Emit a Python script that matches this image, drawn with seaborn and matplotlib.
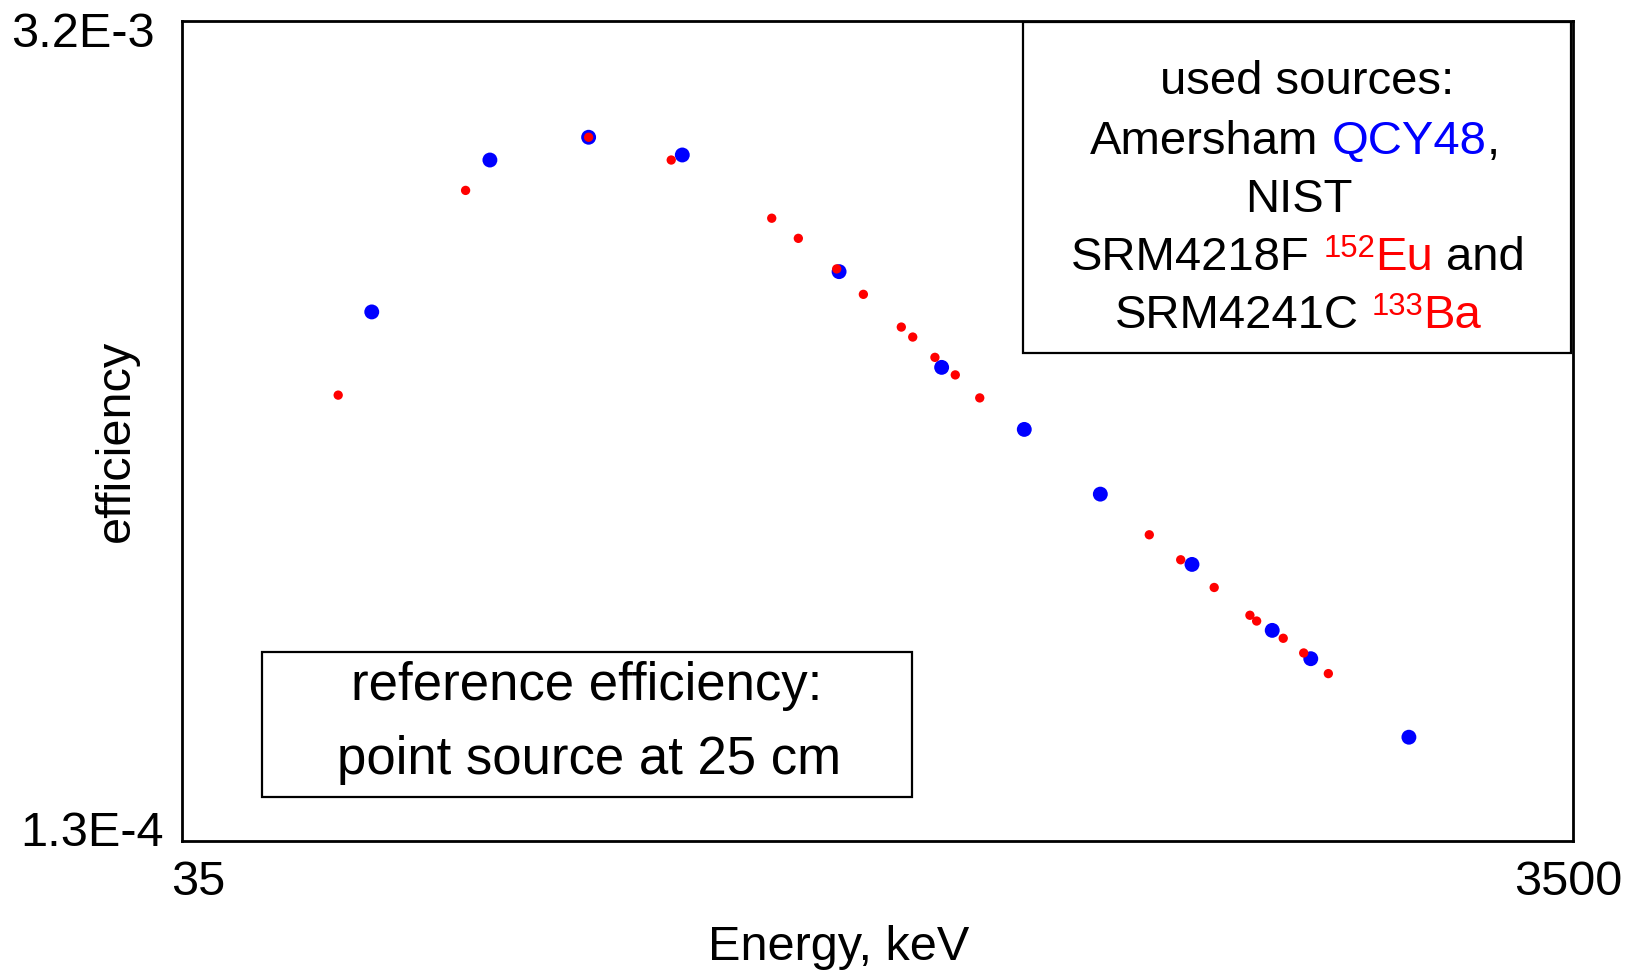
import numpy as np
import pandas as pd
import seaborn as sns
import matplotlib
matplotlib.use("Agg")
import matplotlib.pyplot as plt
from matplotlib.transforms import IdentityTransform, ScaledTranslation
from matplotlib.ticker import NullLocator
import matplotlib.patches as mpatches

# ---- data ----
qcy_energy = [65.6, 97.0, 134.5, 183.4, 308.2, 432.8, 569.0, 731.9, 991.4, 1293, 1469, 2033]
qcy_eff = [1.027e-3, 1.859e-3, 2.032e-3, 1.896e-3, 1.202e-3, 8.27e-4, 6.49e-4,
           5.04e-4, 3.83e-4, 2.96e-4, 2.65e-4, 1.95e-4]
nist_energy = [58.7, 89.5, 134.5, 176.8, 246.6, 269.3, 305.8, 334.0, 378.7, 393.3, 423.3,
               452.8, 491.0, 860.7, 955.0, 1067, 1201, 1228, 1341, 1435, 1557]
nist_eff = [7.42e-4, 1.651e-3, 2.032e-3, 1.859e-3, 1.481e-3, 1.369e-3, 1.215e-3, 1.100e-3,
            9.68e-4, 9.31e-4, 8.60e-4, 8.03e-4, 7.34e-4, 4.30e-4, 3.90e-4, 3.50e-4,
            3.14e-4, 3.07e-4, 2.87e-4, 2.71e-4, 2.50e-4]
x_ticks = [35, 3500]
x_ticklabels = ["35", "3500"]
y_ticks = [1.3e-4, 3.2e-3]
y_ticklabels = ["1.3E-4", "3.2E-3"]

BLUE = "#0000FF"
RED = "#FF0000"

sns.set_theme(style="white")
plt.rcParams["font.family"] = ["Liberation Sans", "DejaVu Sans"]

W, H = 1628, 974
fig = plt.figure(figsize=(W / 100, H / 100), dpi=100)
fig.patch.set_facecolor("white")
ax = fig.add_axes([182 / W, (H - 841) / H, 1391 / W, 820 / H])

qcy = pd.DataFrame({"energy": qcy_energy, "eff": qcy_eff})
nist = pd.DataFrame({"energy": nist_energy, "eff": nist_eff})
sns.scatterplot(data=qcy, x="energy", y="eff", ax=ax, color=BLUE, s=115,
                edgecolor="none", linewidth=0, zorder=3)
sns.scatterplot(data=nist, x="energy", y="eff", ax=ax, color=RED, s=45,
                edgecolor="none", linewidth=0, zorder=4)

ax.set_xscale("log")
ax.set_yscale("log")
ax.set_xlim(35, 3500)
ax.set_ylim(1.3e-4, 3.2e-3)
ax.xaxis.set_minor_locator(NullLocator())
ax.yaxis.set_minor_locator(NullLocator())
ax.set_xticks(x_ticks)
ax.set_xticklabels(x_ticklabels)
ax.set_yticks(y_ticks)
ax.set_yticklabels(y_ticklabels)
ax.tick_params(axis="both", length=0, labelsize=35, colors="black")
ax.tick_params(axis="x", pad=14)
ax.tick_params(axis="y", pad=20)
ax.set_xlabel("")
ax.set_ylabel("")
ax.grid(False)
for sp in ax.spines.values():
    sp.set_color("black")
    sp.set_linewidth(2)
    sp.set_visible(True)

# nudge tick labels like the reference
xoffs = [16, -5]
for lab, dx in zip(ax.get_xticklabels(), xoffs):
    lab.set_transform(lab.get_transform() + ScaledTranslation(dx / 100, 0, fig.dpi_scale_trans))
yoffs = [(10, 12), (0, -8)]
for lab, (dx, dy) in zip(ax.get_yticklabels(), yoffs):
    lab.set_transform(lab.get_transform() + ScaledTranslation(dx / 100, dy / 100, fig.dpi_scale_trans))

# axis titles
fig.text(839, H - 947, "Energy, keV", transform=IdentityTransform(), fontsize=35,
         ha="center", va="center", color="black")
fig.text(116, H - 441, "efficiency", transform=IdentityTransform(), fontsize=35,
         rotation=90, ha="center", va="center", color="black")


# boxes
def box(x0, y0, x1, y1):
    r = mpatches.Rectangle((x0, H - y1), x1 - x0, y1 - y0, transform=IdentityTransform(),
                           facecolor="white", edgecolor="black", linewidth=1.6, zorder=5)
    fig.add_artist(r)


box(1023, 22, 1571, 353)
box(262, 652, 912, 797)

renderer = fig.canvas.get_renderer()


def rich_line(pieces, cx, base_y, size):
    space = 0.278 * size * 100 / 72
    items = []
    x = 0.0
    for p in pieces:
        if p == " ":
            x += space
            continue
        text, color, sup = p
        fs = size * 0.66 if sup else size
        dy = 13 if sup else 0
        t = fig.text(0, 0, text, transform=IdentityTransform(), fontsize=fs, color=color,
                     ha="left", va="baseline", zorder=6)
        w = t.get_window_extent(renderer).width
        items.append((t, x, dy))
        x += w
    start = cx - x / 2
    for t, off, dy in items:
        t.set_position((start + off, H - base_y + dy))


S = 34
rich_line([("used sources:", "black", False)], 1307, 94, S)
rich_line([("Amersham", "black", False), " ", ("QCY48", BLUE, False), (",", "black", False)], 1295, 154, S)
rich_line([("NIST", "black", False)], 1299, 212, S)
rich_line([("SRM4218F", "black", False), " ", ("152", RED, True), ("Eu", RED, False), " ",
           ("and", "black", False)], 1298, 270, S)
rich_line([("SRM4241C", "black", False), " ", ("133", RED, True), ("Ba", RED, False)], 1298, 328, S)

rich_line([("reference efficiency:", "black", False)], 587, 700, 38)
rich_line([("point source at 25 cm", "black", False)], 589, 774, 38)

fig.savefig("out.png", dpi=100, facecolor="white")
